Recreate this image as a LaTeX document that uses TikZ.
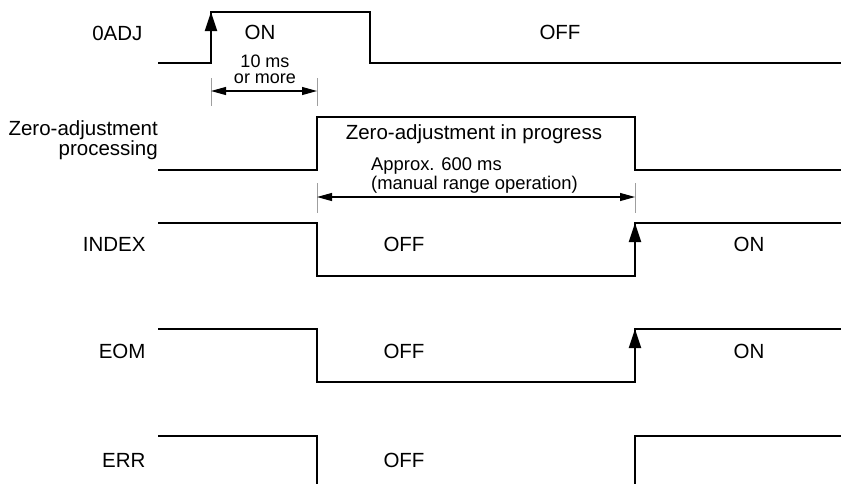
\documentclass[tikz,border=0pt]{standalone}
\usepackage{fontspec}
\setmainfont{Liberation Sans}
\usetikzlibrary{arrows.meta,positioning,calc}
\usepackage{xcolor}
\definecolor{Ink}{HTML}{000000}
\newcommand{\SigName}[4]{%
  \node[anchor=base east,font=\fontsize{20.5}{20.5}\selectfont] (#1) at (#2,#3) {#4};%
}
\newcommand{\SigState}[4]{%
  \node[anchor=base,font=\fontsize{20.5}{20.5}\selectfont] (#1) at (#2,#3) {#4};%
}
\tikzset{
  wave/.style={Ink,line width=2pt,line join=miter},
  edgetip/.style={Ink,line width=2pt,-{Triangle[length=19pt,width=12pt]}},
  dimline/.style={Ink,line width=1.1pt,{Triangle[length=15pt,width=8pt]}-{Triangle[length=15pt,width=8pt]}},
  dimtick/.style={gray!75,line width=1pt},
  note/.style={font=\fontsize{18}{16.5}\selectfont,inner sep=0pt}
}

\begin{document}
\begin{tikzpicture}[x=1pt,y=-1pt]
\useasboundingbox (0,0) rectangle (841,483);
% signal names
\SigName{adj}{146}{40}{0ADJ}
\node[anchor=east,align=right,inner sep=0pt,font=\fontsize{20.5}{20}\selectfont] (zadj) at (158,140) {Zero-adjustment\\processing};
\foreach \y/\n/\s in {251/index/INDEX,358/eom/EOM,467/err/ERR}
  \SigName{\n}{149}{\y}{\s}
% waveforms
\draw[wave] (158,63) -- (211,63) -- (211,12) -- (370,12) -- (370,63) -- (841,63);
\draw[wave] (158,170) -- (317,170) -- (317,117) -- (635,117) -- (635,170) -- (841,170);
\foreach \y in {223,329}
  \draw[wave] (158,\y) -- (317,\y) -- (317,\y+53) -- (635,\y+53) -- (635,\y) -- (841,\y);
\draw[wave] (158,436) -- (317,436) -- (317,490);
\draw[wave] (635,490) -- (635,436) -- (841,436);
% rising edges
\draw[edgetip] (211,63) -- (211,12);
\draw[edgetip] (635,276) -- (635,223);
\draw[edgetip] (635,382) -- (635,329);
% states
\SigState{adjon}{260}{39}{ON}
\SigState{adjoff}{560}{39}{OFF}
\node[anchor=base,font=\fontsize{20.5}{20.5}\selectfont] (zbusy) at (474,139) {Zero-adjustment in progress};
\SigState{indexoff}{404}{251}{OFF}
\SigState{indexon}{749}{251}{ON}
\SigState{eomoff}{404}{358}{OFF}
\SigState{eomon}{749}{358}{ON}
\SigState{erroff}{404}{467}{OFF}
% timing
\coordinate (w1) at (211,91);
\coordinate (w2) at (317,91);
\coordinate (p1) at (317,197);
\coordinate (p2) at (635,197);
\draw[dimtick] (211,78) -- (211,106);
\draw[dimtick] (317,78) -- (317,106);
\draw[dimtick] (317,183) -- (317,213);
\draw[dimtick] (635,183) -- (635,213);
\draw[dimline] (w1) -- (w2);
\draw[dimline] (p1) -- (p2);
\node[note,align=center,anchor=south] (wait) at (265,84) {10 ms\\or more};
\node[note,align=left,anchor=west,font=\fontsize{18.4}{18.5}\selectfont] (approx) at (371,175.5) {Approx. 600 ms\\(manual range operation)};
\end{tikzpicture}
\end{document}
